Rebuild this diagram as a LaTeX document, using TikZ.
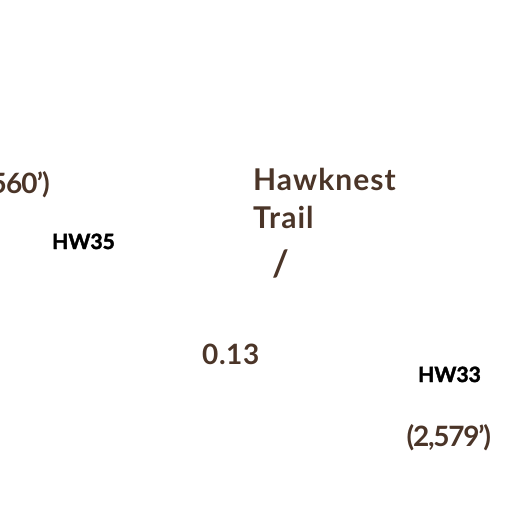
\documentclass[tikz,border=0pt]{standalone}
\usepackage{fontspec}
\setmainfont{Lato}
\definecolor{trailbrown}{RGB}{75,53,40}
\begin{document}
\begin{tikzpicture}[x=1pt,y=-1pt,
    elev/.style={inner sep=0pt,text=trailbrown,font=\fontsize{28}{39}\selectfont\bfseries},
    junction/.style={inner sep=0pt,text=black,font=\fontsize{21}{25}\selectfont\bfseries\addfontfeature{FakeBold=2}}]
            \useasboundingbox (0,0) rectangle (512,512);
            \clip (0,0) rectangle (512,512);

            \node [elev, anchor=base east]  (ElevW) at (50,193) {\addfontfeature{LetterSpace=-3}560')};
            \node [junction, anchor=base west]  (HW35) at (52,249) {HW35};

            \node [elev, anchor=north west, align=left,
                   font=\fontsize{30}{38.5}\selectfont\bfseries\addfontfeature{LetterSpace=3.5}]  (Trail) at (253,168) {Hawknest\\Trail};
            \node [elev, font=\fontsize{36}{40}\selectfont\bfseries]  (Tick) at (280.5,263.5) {/};

            \node [elev, anchor=base west]  (Dist) at (202,364) {\addfontfeature{LetterSpace=2}0.13};

            \node [junction, anchor=base west]  (HW33) at (418,382) {HW33};
            \node [elev, anchor=base west]  (ElevE) at (406.5,446) {\addfontfeature{LetterSpace=-4.5}(2,579')};
        \end{tikzpicture}
\end{document}
